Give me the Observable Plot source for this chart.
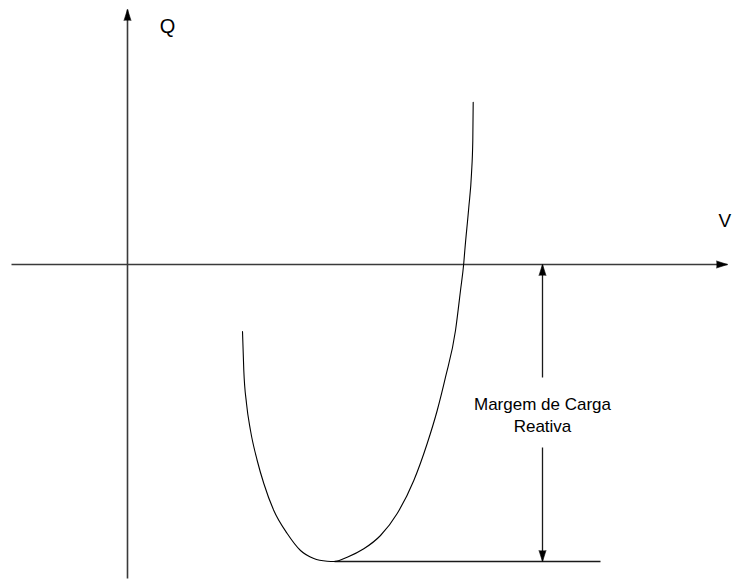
<!DOCTYPE html>
<html>
<head>
<meta charset="utf-8">
<script src="https://cdn.jsdelivr.net/npm/d3@7"></script>
<script src="https://cdn.jsdelivr.net/npm/@observablehq/plot@0.6"></script>
<style>
  html, body { margin: 0; padding: 0; background: #fff; overflow: hidden; }
  #chart svg { display: block; overflow: visible; }
</style>
</head>
<body>
<div id="chart"></div>
<script>
// Q–V curve (reactive power vs. voltage), arbitrary units, origin at the axes crossing
const curveV = [1.15, 1.163, 1.19, 1.23, 1.297, 1.363, 1.463, 1.597, 1.73, 1.863, 1.997, 2.07,
                2.197, 2.363, 2.53, 2.697, 2.863, 2.997, 3.097, 3.18, 3.28, 3.33, 3.363, 3.373,
                3.413, 3.44, 3.453, 3.457];
const curveQ = [-0.67, -1.06, -1.39, -1.66, -1.96, -2.19, -2.46, -2.69, -2.86, -2.94, -2.967, -2.97,
                -2.927, -2.843, -2.71, -2.49, -2.16, -1.79, -1.46, -1.127, -0.66, -0.26, 0.017, 0.14,
                0.573, 0.91, 1.24, 1.623];

// Axis extents
const vAxis = [-1.16, 6.0];   // horizontal axis (V), arrow at the right end
const qAxis = [-3.14, 2.55];  // vertical axis (Q), arrow at the top end

// Reactive power margin: from Q = 0 down to the curve's minimum
const marginV = 4.15;
const qMin = -2.97;
const minV = 2.07;
const baseEndV = 4.73;
const marginGap = [-1.13, -1.83];  // the arrow line is interrupted around its label

const axisLabels = [
  {text: "Q", v: 0.4, q: 2.384},
  {text: "V", v: 5.91, q: 0.434}
];
const marginLabel = [{text: "Margem de Carga\nReativa", v: marginV, q: -1.496}];

const curve = curveV.map((v, i) => ({v, q: curveQ[i]}));

const segments = [
  {v1: 0, q1: qAxis[0], v2: 0, q2: qAxis[1], kind: "axis"},
  {v1: vAxis[0], q1: 0, v2: vAxis[1], q2: 0, kind: "axis"},
  {v1: minV, q1: qMin, v2: baseEndV, q2: qMin, kind: "base"},
  {v1: marginV, q1: 0, v2: marginV, q2: marginGap[0], kind: "margin"},
  {v1: marginV, q1: marginGap[1], v2: marginV, q2: qMin, kind: "margin"}
];

const heads = [
  {v: 0, q: qAxis[1], rotate: 0},
  {v: vAxis[1], q: 0, rotate: 90},
  {v: marginV, q: 0, rotate: 0},
  {v: marginV, q: qMin, rotate: 180}
];

const W = 732, H = 583;
const chart = Plot.plot({
  width: W,
  height: H,
  margin: 0,
  style: {background: "#fff", fontFamily: "'Liberation Sans', Arial, sans-serif", color: "#000"},
  x: {type: "linear", domain: [-1.27, 6.05], range: [0, W], axis: null},
  y: {type: "linear", domain: [2.64, -3.19], range: [0, H], axis: null},
  marks: [
    Plot.link(segments.filter(d => d.kind === "axis"), {
      x1: "v1", y1: "q1", x2: "v2", y2: "q2", stroke: "#3a3a3a", strokeWidth: 1.6
    }),
    Plot.link(segments.filter(d => d.kind !== "axis"), {
      x1: "v1", y1: "q1", x2: "v2", y2: "q2", stroke: "#1a1a1a", strokeWidth: 1.3
    }),
    Plot.line(curve, {x: "v", y: "q", curve: "monotone-x", stroke: "#000", strokeWidth: 1.1}),
    Plot.vector(heads, {
      x: "v", y: "q", rotate: "rotate", length: 11, r: 3.5,
      shape: "spike", anchor: "end", fill: "#000", stroke: "#000", strokeWidth: 0.6
    }),
    Plot.text(axisLabels.slice(0, 1), {
      x: "v", y: "q", text: "text", textAnchor: "middle", fontSize: 20, fill: "#000"
    }),
    Plot.text(axisLabels.slice(1), {
      x: "v", y: "q", text: "text", textAnchor: "start", fontSize: 19, fill: "#000"
    }),
    Plot.text(marginLabel, {
      x: "v", y: "q", text: "text", textAnchor: "middle", fontSize: 17,
      lineHeight: 1.3, fill: "#000"
    })
  ]
});
document.getElementById("chart").appendChild(chart);
</script>
</body>
</html>
